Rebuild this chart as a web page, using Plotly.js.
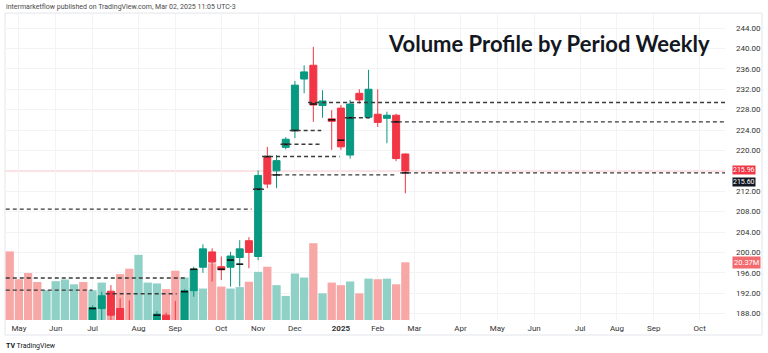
<!DOCTYPE html>
<html>
<head>
<meta charset="utf-8">
<script src="https://cdn.plot.ly/plotly-3.0.1.min.js"></script>
<style>
  html, body { margin: 0; padding: 0; background: #ffffff; }
  #chart { width: 768px; height: 353px; }
</style>
</head>
<body>
<div id="chart"></div>
<script>
// Weekly bars (Monday of each week)
const weeks = [
  "2024-04-29","2024-05-06","2024-05-13","2024-05-20","2024-05-27","2024-06-03","2024-06-10","2024-06-17","2024-06-24",
  "2024-07-01","2024-07-08","2024-07-15","2024-07-22","2024-07-29","2024-08-05","2024-08-12","2024-08-19","2024-08-26",
  "2024-09-02","2024-09-09","2024-09-16","2024-09-23","2024-09-30","2024-10-07","2024-10-14","2024-10-21","2024-10-28",
  "2024-11-04","2024-11-11","2024-11-18","2024-11-25","2024-12-02","2024-12-09","2024-12-16","2024-12-23","2024-12-30",
  "2025-01-06","2025-01-13","2025-01-20","2025-01-27","2025-02-03","2025-02-10","2025-02-17","2025-02-24"
];
const open  = [184.0,181.0,180.0,177.5,176.0,179.0,181.5,184.0,185.5, 183.0,189.0,192.4,189.0,186.0,183.0,185.0,185.5,187.7, 185.0,183.5,192.5,197.1,200.1,197.2,197.1,199.0,202.3, 199.2,218.6,216.0,220.6,223.9,234.0,236.7,228.8,226.2, 228.3,219.1,231.2,226.5,227.1,226.3,226.9,219.3];
const high  = [185.5,184.0,183.0,180.5,180.0,182.5,185.0,186.0,186.3, 189.6,192.3,193.6,191.0,190.6,186.0,186.5,188.5,188.2, 190.5,192.8,197.2,201.6,200.8,199.2,200.1,202.4,203.0, 216.1,220.7,219.1,222.6,233.6,236.7,240.3,231.8,227.9, 228.9,229.9,232.0,235.8,232.0,227.6,227.2,219.4];
const low   = [179.0,178.5,176.0,174.5,175.0,178.0,180.5,182.5,182.0, 182.5,186.0,185.5,183.0,182.5,180.5,182.0,183.5,182.0, 181.5,182.5,191.3,196.0,194.3,194.6,193.3,193.3,196.9, 198.5,212.6,212.6,220.2,222.4,231.2,225.6,226.4,220.1, 220.1,218.4,229.2,226.3,224.6,221.4,217.9,211.6];
const close = [181.0,179.5,177.5,176.0,179.0,181.5,184.0,185.5,183.0, 189.2,191.5,187.7,185.0,184.5,185.0,186.0,187.9,184.0, 183.0,192.5,196.7,200.7,198.1,196.6,199.3,200.7,200.0, 215.1,213.4,218.0,222.2,232.8,235.4,228.9,229.7,225.7, 220.7,229.1,229.9,232.0,225.5,226.9,218.4,215.96];
const volumeM = [24.2,14.4,16.6,13.4,10.5,13.7,14.3,12.6,13.4, 10.5,13.2,9.9,16.2,18.1,23.0,13.2,12.9,10.9, 17.4,15.0,11.1,11.1,20.0,11.8,11.1,11.6,13.5, 17.0,18.8,12.3,8.5,16.4,15.0,27.1,9.4,13.2, 12.3,13.6,9.4,14.6,14.4,14.6,12.6,20.37];

// Weekly point-of-control marks
const pocWeeks  = ["2024-07-01","2024-08-19","2024-09-09","2024-09-16","2024-10-07","2024-10-14","2024-10-21","2024-11-04","2024-11-11","2024-11-18","2024-11-25","2024-12-02","2024-12-16","2024-12-30","2025-01-06","2025-01-13","2025-02-17","2025-02-24"];
const pocValues = [189.0,187.7,192.3,196.7,196.7,198.5,197.7,212.4,218.8,215.2,221.2,223.9,229.1,226.0,222.0,226.4,225.6,215.6];

// Extended (naked) POC levels: start, end (null = to the right edge), level
const pocLineLevel = [195.0,192.6,191.9,208.5,212.4,218.8,215.2,221.2,223.9,229.4,226.4,225.6,215.6];
const pocLineFrom  = ["2024-04-26","2024-04-26","2024-07-11","2024-04-26","2024-10-31","2024-11-07","2024-11-14","2024-11-21","2024-11-28","2024-12-12","2025-01-09","2025-02-13","2025-02-20"];
const pocLineTo    = ["2024-09-11","2024-07-01","2024-09-03","2024-10-30","2024-11-09","2025-01-05","2025-02-17","2024-12-22","2024-12-22",null,"2025-01-28",null,null];

// Time axis labels
const monthTicks  = ["2024-05-06","2024-06-03","2024-07-01","2024-08-05","2024-09-02","2024-10-07","2024-11-04","2024-12-02","2025-01-06","2025-02-03","2025-03-03","2025-04-07","2025-05-05","2025-06-02","2025-07-07","2025-08-04","2025-09-01","2025-10-06"];
const monthLabels = ["May","Jun","Jul","Aug","Sep","Oct","Nov","Dec","<b>2025</b>","Feb","Mar","Apr","May","Jun","Jul","Aug","Sep","Oct"];

// Price scale labels (216.00 is hidden behind the last-price label)
const priceTicks = [188,192,196,200,204,208,212,220,224,228,232,236,240,244];

const pocLabel = 215.60;

const UP = '#089981', DOWN = '#F23645';
const VOL_UP = '#8fd0c7', VOL_DOWN = '#f7a7a6';
const xRange = ['2024-04-25 10:00', '2025-10-25 05:00'];

const volColors = close.map((c, i) => c >= open[i] ? VOL_UP : VOL_DOWN);
const volume = volumeM.map(v => v * 1e6);

const traces = [
  {
    type: 'bar', x: weeks, y: volume, xaxis: 'x', yaxis: 'y',
    marker: { color: volColors, line: { width: 0 } },
    hoverinfo: 'skip', showlegend: false
  },
  {
    type: 'candlestick', x: weeks, open: open, high: high, low: low, close: close,
    xaxis: 'x', yaxis: 'y2',
    increasing: { line: { color: UP, width: 1 }, fillcolor: UP },
    decreasing: { line: { color: DOWN, width: 1 }, fillcolor: DOWN },
    whiskerwidth: 0, hoverinfo: 'skip', showlegend: false
  },
  {
    type: 'scatter', mode: 'markers', x: pocWeeks, y: pocValues, xaxis: 'x', yaxis: 'y2',
    marker: { symbol: 'line-ew', size: 5, line: { color: '#111', width: 1.6 } },
    hoverinfo: 'skip', showlegend: false, cliponaxis: true
  }
];

const shapes = [];
const lastClose = close[close.length - 1];
shapes.push({
  type: 'line', xref: 'paper', yref: 'y2', x0: 0, x1: 1, y0: lastClose, y1: lastClose,
  line: { color: '#f8c6ca', width: 1 }, layer: 'below'
});
for (let i = 0; i < pocLineLevel.length; i++) {
  shapes.push({
    type: 'line', xref: 'x', yref: 'y2',
    x0: pocLineFrom[i], x1: pocLineTo[i] === null ? xRange[1] : pocLineTo[i],
    y0: pocLineLevel[i], y1: pocLineLevel[i],
    line: { color: '#3a3a3a', width: 1.4, dash: '4px,3px' }
  });
}
// snapshot frame
shapes.push({
  type: 'rect', xref: 'paper', yref: 'paper', x0: 0, x1: 1.0514, y0: -0.049, y1: 1.003,
  line: { color: '#e3e5ea', width: 1 }, fillcolor: 'rgba(0,0,0,0)', layer: 'below'
});

const annotations = [
  {
    xref: 'paper', yref: 'y2', x: 1, y: lastClose, xanchor: 'left', yanchor: 'middle', xshift: 7, yshift: 1,
    text: lastClose.toFixed(2), showarrow: false, bgcolor: DOWN, borderpad: 0,
    font: { family: 'Roboto', size: 7, color: '#ffffff' }
  },
  {
    xref: 'paper', yref: 'y2', x: 1, y: pocLabel, xanchor: 'left', yanchor: 'middle', xshift: 7, yshift: -9,
    text: pocLabel.toFixed(2), showarrow: false, bgcolor: '#131722', borderpad: 0,
    font: { family: 'Roboto', size: 7, color: '#ffffff' }
  },
  {
    xref: 'paper', yref: 'y', x: 1, y: volume[volume.length - 1], xanchor: 'left', yanchor: 'middle', xshift: 7,
    text: volumeM[volumeM.length - 1].toFixed(2) + 'M', showarrow: false, bgcolor: '#f36b6f', borderpad: 1,
    font: { family: 'Roboto', size: 7.5, color: '#ffffff' }
  },
  {
    xref: 'paper', yref: 'paper', x: 0, y: 1, xanchor: 'left', yanchor: 'bottom', xshift: -1, yshift: 1,
    text: 'intermarketflow published on TradingView.com, Mar 02, 2025 11:05 UTC-3', showarrow: false,
    font: { family: 'Roboto', size: 7, color: '#4a4a4a' }
  },
  {
    xref: 'paper', yref: 'paper', x: 0, y: 0, xanchor: 'left', yanchor: 'top', xshift: -1, yshift: -20,
    text: '<b>TV</b> TradingView', showarrow: false,
    font: { family: 'Roboto', size: 7, color: '#131722' }
  }
];

const layout = {
  width: 768, height: 353,
  margin: { l: 5, r: 43, t: 14, b: 33, pad: 0 },
  paper_bgcolor: '#ffffff', plot_bgcolor: '#ffffff',
  showlegend: false,
  bargap: 0.1,
  boxgap: 0.05, boxgroupgap: 0.2,
  title: {
    text: 'Volume Profile by Period Weekly',
    font: { family: 'Lato', size: 22, color: '#131722', weight: 'bold' },
    xref: 'container', yref: 'container', x: 389 / 768, xanchor: 'left', y: 1 - 44 / 353, yanchor: 'middle'
  },
  xaxis: {
    type: 'date', range: xRange,
    tickmode: 'array', tickvals: monthTicks, ticktext: monthLabels,
    showgrid: true, gridcolor: '#f2f3f5', gridwidth: 1,
    zeroline: false, showline: false, ticks: '',
    tickfont: { family: 'Roboto', size: 8, color: '#333' },
    ticklabelstandoff: 2,
    rangeslider: { visible: false }, fixedrange: true
  },
  yaxis: {
    range: [0, 108e6], visible: false, showgrid: false, zeroline: false, fixedrange: true
  },
  yaxis2: {
    overlaying: 'y', side: 'right', range: [186.75, 246.75],
    tickmode: 'array', tickvals: priceTicks, tickformat: '.2f',
    showgrid: true, gridcolor: '#f2f3f5', gridwidth: 1,
    zeroline: false, showline: false, ticks: '',
    tickfont: { family: 'Roboto', size: 8, color: '#333' },
    ticklabelstandoff: 10, fixedrange: true
  },
  shapes: shapes,
  annotations: annotations
};

Plotly.newPlot('chart', traces, layout, { displayModeBar: false, staticPlot: true });
</script>
</body>
</html>
